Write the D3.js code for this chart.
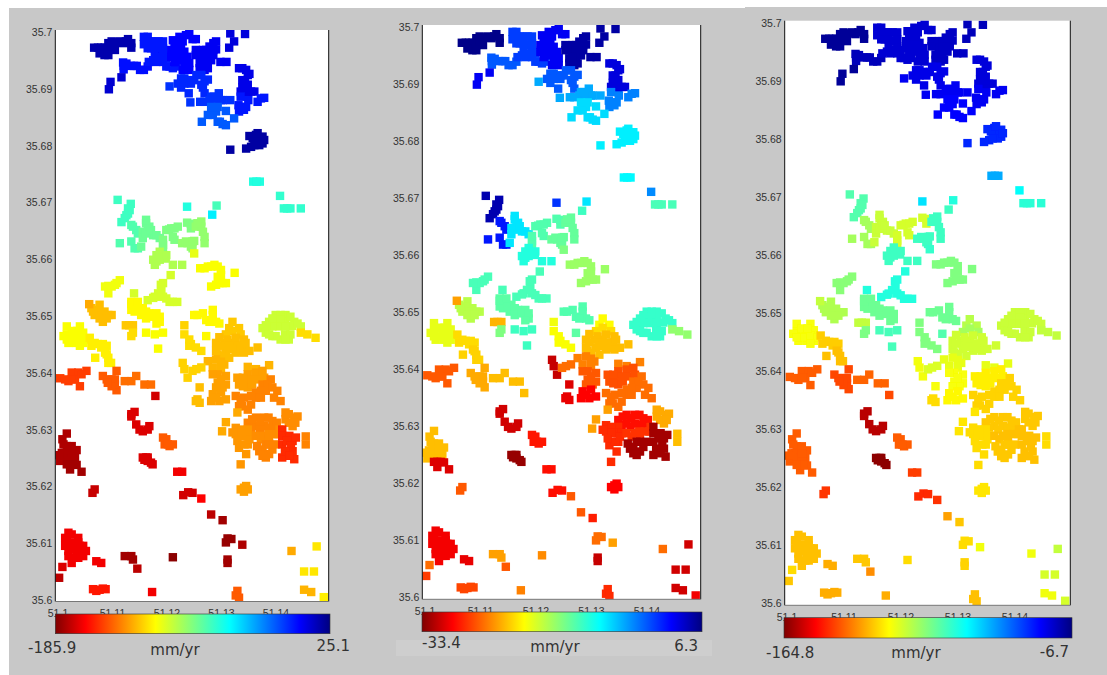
<!DOCTYPE html>
<html><head><meta charset="utf-8">
<style>html,body{margin:0;padding:0;background:#fff}svg{display:block}</style>
<script src="https://cdn.jsdelivr.net/npm/d3@7/dist/d3.min.js"></script></head>
<body><div id="chart"></div>
<script>
// rates = [panel 1, panel 2, panel 3] in mm/yr; sites = [lon, lat]
const nwBlob={rates:[16.7,6,-10],sites:[[51.1071,35.6969],[51.1084,35.6969],[51.1097,35.6977],[51.1109,35.6978],[51.1097,35.6965],[51.1109,35.6965],[51.109,35.6956],[51.1129,35.698],[51.1139,35.6969],[51.1124,35.6977],[51.1078,35.6969],[51.109,35.6969],[51.1103,35.6971],[51.1103,35.698],[51.1115,35.6978],[51.1081,35.6959],[51.1118,35.698],[51.1097,35.6956],[51.1133,35.6984],[51.1139,35.6977]]};
const chainA={rates:[-0.2,-1.6,-14.6],sites:[[51.1124,35.6943],[51.1138,35.6937],[51.1149,35.6937],[51.1162,35.693],[51.1125,35.6931],[51.113,35.6941],[51.1144,35.6937],[51.1155,35.693],[51.1169,35.6936],[51.1125,35.6937]]};
const chainB={rates:[10.3,2.3,-10],sites:[[51.1121,35.6917],[51.1101,35.6909],[51.1098,35.6896]]};
const blockA={rates:[-2.3,-0.5,-18],sites:[[51.1162,35.6988],[51.1162,35.6975],[51.1175,35.698],[51.1189,35.698],[51.1175,35.6968],[51.1189,35.6965],[51.1182,35.6956],[51.1197,35.6956],[51.1171,35.6944],[51.1185,35.6944],[51.1197,35.6944],[51.1209,35.6936],[51.1221,35.6936],[51.1169,35.6988],[51.1169,35.698],[51.1169,35.6968],[51.1182,35.698],[51.1197,35.698],[51.1182,35.6968],[51.1197,35.6968],[51.1179,35.6947],[51.1189,35.695],[51.1203,35.695],[51.1203,35.6936],[51.1215,35.6933]]};
const blockB={rates:[1.9,2.3,-18],sites:[[51.1212,35.6953],[51.1224,35.6953],[51.1236,35.6942],[51.1245,35.6942],[51.1245,35.693],[51.1212,35.6965],[51.1224,35.6965],[51.1236,35.6962],[51.1221,35.698],[51.1233,35.698],[51.1239,35.6991],[51.1251,35.6984],[51.1227,35.6988],[51.1218,35.6974],[51.123,35.6974],[51.1218,35.6959],[51.123,35.6959],[51.1218,35.6944],[51.123,35.6947],[51.1242,35.6953],[51.1233,35.693],[51.1245,35.6994],[51.1215,35.6982],[51.1257,35.6984]]};
const blockC={rates:[4,5.1,-16],sites:[[51.1257,35.6965],[51.127,35.6965],[51.1282,35.6971],[51.1294,35.698],[51.1294,35.6966],[51.127,35.6953],[51.1282,35.6953],[51.1264,35.6942],[51.1276,35.6942],[51.1273,35.693],[51.1285,35.6947],[51.1302,35.6944],[51.1313,35.6944],[51.1276,35.6965],[51.1289,35.6965],[51.1289,35.6977],[51.1276,35.6956],[51.1289,35.6956],[51.1264,35.6933],[51.1279,35.6933],[51.127,35.6944],[51.1257,35.6956]]};
const neTop={rates:[8.2,5.1,-14.6],sites:[[51.132,35.6994],[51.1327,35.698],[51.1318,35.6969],[51.1347,35.6993]]};
const rightTop={rates:[6.1,3.1,-19],sites:[[51.1336,35.6933],[51.1349,35.693],[51.1355,35.6923],[51.1347,35.6912],[51.1347,35.6899],[51.1345,35.6889],[51.1358,35.6892],[51.1342,35.6933],[51.1352,35.6921],[51.1342,35.6912],[51.1352,35.6904],[51.1342,35.6899],[51.1364,35.6892],[51.1339,35.6892],[51.1352,35.6883]]};
const rightLow={rates:[-2.3,-3.2,-22.5],sites:[[51.1376,35.688],[51.137,35.6874],[51.1339,35.6883],[51.1336,35.6857],[51.1345,35.686],[51.1353,35.6877],[51.1335,35.6868],[51.1382,35.6881],[51.1342,35.6865],[51.1349,35.6865]]};
const lowerA={rates:[-6.5,-1.6,-20.9],sites:[[51.123,35.6915],[51.1242,35.6912],[51.1254,35.6912],[51.1267,35.6921],[51.1279,35.6913],[51.123,35.6899],[51.1244,35.6889],[51.127,35.6899],[51.1273,35.6889],[51.1236,35.6915],[51.1248,35.6912],[51.1258,35.6921],[51.1224,35.6906],[51.1236,35.6906],[51.1248,35.6906],[51.1273,35.691],[51.1267,35.6904]]};
const lowerB={rates:[-8.7,-4.8,-22.5],sites:[[51.1209,35.6901],[51.1247,35.6873],[51.1265,35.6874],[51.1282,35.6877],[51.1294,35.688],[51.1303,35.6877],[51.1299,35.6889],[51.1285,35.6883],[51.132,35.6877],[51.1273,35.6874],[51.129,35.6883],[51.1294,35.6871],[51.1306,35.6877]]};
const lowerC={rates:[-17,-6.8,-25],sites:[[51.1288,35.686],[51.1279,35.6851],[51.1294,35.6857],[51.1312,35.6858],[51.1268,35.6839],[51.1297,35.6839],[51.1306,35.6835],[51.1312,35.6833],[51.1327,35.6845],[51.1288,35.6851],[51.1301,35.6839],[51.1285,35.6865],[51.1297,35.6865]]};
const neBlob={rates:[18.8,-7.6,-30],sites:[[51.1355,35.6814],[51.1367,35.6816],[51.1379,35.6813],[51.1379,35.6801],[51.1367,35.6804],[51.1358,35.6795],[51.1349,35.6792],[51.132,35.679],[51.1373,35.681],[51.1361,35.681],[51.137,35.6819],[51.1373,35.6798],[51.1382,35.6807],[51.1364,35.6798]]};
const cyanRow={rates:[-59,-8,-51],sites:[[51.1362,35.6734],[51.1374,35.6734],[51.1368,35.6734]]};
const cyanOne={rates:[-63,-3.6,-65],sites:[[51.1411,35.6709]]};
const cyanTrio={rates:[-63,-11.2,-71.5],sites:[[51.1418,35.6687],[51.143,35.6687],[51.1449,35.6687],[51.1424,35.6687]]};
const greenA={rates:[-65.6,4.7,-78],sites:[[51.1114,35.6702],[51.1138,35.6695],[51.1133,35.6687],[51.113,35.6675],[51.1121,35.6663],[51.1133,35.6678],[51.1127,35.667],[51.1136,35.6684]]};
const greenB={rates:[-70,1.1,-92],sites:[[51.1139,35.6658],[51.1148,35.6649],[51.1118,35.6626],[51.1139,35.6629],[51.1145,35.6617],[51.1142,35.6655],[51.1151,35.6643],[51.1151,35.6617]]};
const greenC={rates:[-76,-7.2,-98],sites:[[51.116,35.6646],[51.1166,35.6661],[51.1169,35.6649],[51.116,35.6635],[51.1179,35.664],[51.1191,35.6635],[51.1157,35.662],[51.1166,35.6643],[51.1172,35.6655],[51.1166,35.6667],[51.1175,35.6649],[51.1185,35.664]]};
const greenD={rates:[-80,-11.6,-100],sites:[[51.1203,35.6649],[51.1212,35.6652],[51.1224,35.6655],[51.1241,35.6662],[51.1248,35.6652],[51.1218,35.6632],[51.1197,35.6623],[51.1208,35.665],[51.1218,35.6652],[51.1248,35.666],[51.1215,35.6637],[51.1197,35.6632],[51.1197,35.6617]]};
const greenE={rates:[-84.6,-12.4,-74.7],sites:[[51.1257,35.6655],[51.1267,35.6664],[51.1267,35.6655],[51.1232,35.6626],[51.1242,35.6626],[51.1254,35.663],[51.1273,35.6637],[51.1273,35.6626],[51.1251,35.6617],[51.126,35.6661],[51.1239,35.6629],[51.1248,35.662],[51.1251,35.6629],[51.127,35.6646]]};
const isoA={rates:[-59,-0.1,-60],sites:[[51.1241,35.669]]};
const isoB={rates:[-67.7,-7.2,-70],sites:[[51.1295,35.6692]]};
const isoC={rates:[-48.7,-10.8,-74.7],sites:[[51.1287,35.6676]]};
const greenF={rates:[-91,-9.6,-74.7],sites:[[51.1185,35.6605],[51.1197,35.6602],[51.1185,35.6594],[51.1202,35.6599],[51.1215,35.6588],[51.1232,35.6588],[51.1191,35.6611],[51.1179,35.6597],[51.1191,35.6597],[51.1203,35.6605],[51.1182,35.6588]]};
const isoD={rates:[-103.6,-13.5,-73],sites:[[51.1254,35.6608]]};
const yellowCurve={rates:[-107.8,-14.7,-85.8],sites:[[51.1265,35.6582],[51.1279,35.6585],[51.1291,35.6588],[51.1303,35.6579],[51.1297,35.6567],[51.1312,35.6556],[51.13,35.6556],[51.1285,35.655],[51.1328,35.6574],[51.1285,35.6585],[51.1297,35.6585],[51.1303,35.657],[51.1306,35.6556],[51.1294,35.6553],[51.1273,35.6582]]};
const westPatch={rates:[-105.7,-11.2,-87.3],sites:[[51.1118,35.6561],[51.1109,35.6553],[51.1097,35.6551],[51.1097,35.6538],[51.1103,35.655],[51.1112,35.6556],[51.1091,35.655]]};
const midChain={rates:[-99.4,-11.2,-70],sites:[[51.1211,35.657],[51.1197,35.6556],[51.1194,35.6544],[51.1182,35.6532],[51.1169,35.6526],[51.1197,35.6532],[51.1209,35.6523],[51.1223,35.6523],[51.1144,35.6538],[51.1188,35.6538],[51.1203,35.6529],[51.1179,35.653],[51.1215,35.6523],[51.1193,35.6553]]};
const orangeWest={rates:[-122.6,-15.9,-93.7],sites:[[51.1066,35.6512],[51.1081,35.6518],[51.1072,35.65],[51.109,35.6506],[51.1103,35.65],[51.1087,35.6488],[51.1078,35.6509],[51.1069,35.6506],[51.1085,35.65],[51.1097,35.65],[51.1081,35.6494],[51.1094,35.6494]]};
const orangeTip={rates:[-126.8,-22.7,-97],sites:[[51.1062,35.6519]]};
const yellowBlock={rates:[-110,-12,-82.6],sites:[[51.1139,35.6523],[51.1148,35.6515],[51.116,35.6512],[51.1139,35.6509],[51.1172,35.6503],[51.1157,35.65],[51.1185,35.6503],[51.1191,35.6488],[51.1145,35.6506],[51.1154,35.6509],[51.1166,35.6506],[51.1166,35.6494],[51.1179,35.6497],[51.1191,35.6497],[51.1185,35.6485],[51.1139,35.6519],[51.1151,35.6523]]};
const orangePair={rates:[-120.5,-21.9,-96.8],sites:[[51.1129,35.6482],[51.1142,35.6482],[51.1135,35.6482]]};
const midBlock={rates:[-110,-11.6,-82.6],sites:[[51.1254,35.65],[51.127,35.6503],[51.1288,35.6509],[51.1276,35.6491],[51.1294,35.6488],[51.1288,35.65],[51.1282,35.6488],[51.13,35.6485],[51.126,35.65]]};
const midTip={rates:[-118.4,-18.3,-85.8],sites:[[51.1236,35.6482]]};
const centreTip={rates:[-120.5,-19,-95],sites:[[51.1324,35.6488],[51.1318,35.6477],[51.1336,35.6477]]};
const eastGreen={rates:[-97.3,-10.4,-98],sites:[[51.1403,35.65],[51.1421,35.65],[51.1391,35.6488],[51.1403,35.6488],[51.1421,35.6488],[51.1437,35.6488],[51.1449,35.648],[51.1379,35.6477],[51.1397,35.6463],[51.1412,35.6457],[51.1427,35.6457],[51.1385,35.6469],[51.1412,35.65],[51.1397,35.6494],[51.1412,35.6491],[51.143,35.6497],[51.1433,35.6481],[51.1409,35.648],[51.1421,35.648],[51.1397,35.648],[51.1385,35.6482],[51.1443,35.6485],[51.1403,35.6463],[51.142,35.6466],[51.143,35.6466],[51.1391,35.6466],[51.1421,35.6457]]};
const eastTip={rates:[-116,-14.3,-96.8],sites:[[51.1461,35.6466],[51.1476,35.646],[51.1449,35.6469]]};
const westYellow={rates:[-107.8,-17.9,-106],sites:[[51.1021,35.648],[51.1045,35.648],[51.1021,35.6466],[51.1036,35.6463],[51.1051,35.6469],[51.1024,35.6451],[51.1038,35.6451],[51.1051,35.6451],[51.1015,35.6463],[51.103,35.6457],[51.1045,35.646],[51.1057,35.6457],[51.103,35.6472],[51.104,35.6472],[51.1021,35.6457],[51.1045,35.6446]]};
const westOrange={rates:[-112,-20.3,-115],sites:[[51.1063,35.646],[51.1078,35.6449],[51.1066,35.6446],[51.1094,35.6446],[51.1072,35.6451],[51.1084,35.6443],[51.1087,35.6449]]};
const westTail={rates:[-112,-20.7,-117],sites:[[51.1094,35.6431],[51.1073,35.6425],[51.1097,35.6416],[51.1097,35.6425],[51.1091,35.6434],[51.1102,35.6416]]};
const northMidA={rates:[-116,-13.5,-85],sites:[[51.1142,35.6469],[51.1139,35.6463]]};
const northMidB={rates:[-107.8,-10.8,-76],sites:[[51.1166,35.6469],[51.1182,35.6466],[51.1197,35.6469],[51.1188,35.6441]]};
const northMidC={rates:[-116,-18.7,-85.8],sites:[[51.1236,35.6466],[51.1248,35.6449],[51.1245,35.6446],[51.1267,35.6437],[51.1245,35.6457],[51.1257,35.6443]]};
const northMidD={rates:[-110,-12,-78],sites:[[51.1276,35.6463]]};
const coreTop={rates:[-120.5,-20.3,-92],sites:[[51.1312,35.6466],[51.1324,35.6472],[51.1339,35.6466]]};
const coreA={rates:[-122.6,-21.5,-99],sites:[[51.1294,35.6451],[51.1309,35.6451],[51.1324,35.6451],[51.1342,35.6446],[51.1355,35.6437],[51.137,35.6443],[51.1294,35.6437],[51.1312,35.6437],[51.133,35.6434],[51.13,35.6461],[51.1315,35.6457],[51.133,35.646],[51.1345,35.6457],[51.13,35.6446],[51.1318,35.6446],[51.1334,35.6446],[51.1348,35.6451],[51.1303,35.6428],[51.1318,35.6425],[51.1336,35.6437],[51.1297,35.6431],[51.1324,35.644],[51.1345,35.6434]]};
const coreB={rates:[-124.7,-23.9,-103],sites:[[51.1294,35.6422],[51.1279,35.6419],[51.1309,35.6413],[51.1391,35.6412],[51.1367,35.6405],[51.1352,35.6409],[51.1303,35.6405],[51.1288,35.6408],[51.1303,35.6418]]};
const coreWestA={rates:[-118.4,-31,-105],sites:[[51.1233,35.6416],[51.1236,35.6405],[51.1242,35.639]]};
const coreWestB={rates:[-118.4,-24.7,-101],sites:[[51.1251,35.6402],[51.1267,35.6408],[51.1258,35.6405]]};
const denseA={rates:[-129,-25.5,-106],sites:[[51.1297,35.6396],[51.1312,35.6393],[51.1297,35.6381],[51.1312,35.6378],[51.1303,35.6387],[51.1306,35.6373],[51.1294,35.6373],[51.1288,35.6396]]};
const denseB={rates:[-129,-29,-108],sites:[[51.1288,35.6361],[51.1303,35.6364],[51.1285,35.6349],[51.13,35.6349],[51.1312,35.6352],[51.1294,35.6355]]};
const isoE={rates:[-122.6,-30.2,-106],sites:[[51.1264,35.6373]]};
const denseC={rates:[-122.6,-29.8,-112.6],sites:[[51.1257,35.6349],[51.1264,35.6346],[51.126,35.6352]]};
const denseD={rates:[-129,-25.9,-109.5],sites:[[51.1333,35.639],[51.1349,35.6384],[51.1367,35.6399],[51.1379,35.6402],[51.1352,35.6396],[51.1336,35.6378],[51.1352,35.6373],[51.1357,35.6387],[51.1343,35.639],[51.136,35.6378],[51.137,35.6387],[51.1382,35.639],[51.1343,35.6375]]};
const denseE={rates:[-135,-24.7,-114],sites:[[51.1394,35.6387],[51.1406,35.6367],[51.1379,35.6378],[51.1367,35.6364],[51.1385,35.6367],[51.14,35.6355],[51.133,35.6358],[51.1345,35.6355],[51.1367,35.6355],[51.1358,35.6343],[51.1412,35.6349],[51.1342,35.634],[51.1388,35.6378],[51.1397,35.6373],[51.1376,35.6367],[51.1376,35.6355],[51.1358,35.6358],[51.1336,35.634],[51.1352,35.6334],[51.1339,35.6351]]};
const denseF={rates:[-126.8,-22.7,-111],sites:[[51.1333,35.6329],[51.1312,35.6312],[51.1305,35.6296]]};
const southEastA={rates:[-133,-22.3,-115.8],sites:[[51.1421,35.6329],[51.1437,35.632],[51.1421,35.6317],[51.1443,35.6322],[51.1434,35.6305],[51.1427,35.6326],[51.1427,35.6311],[51.1439,35.6311]]};
const southMassA={rates:[-135,-28.6,-115.8],sites:[[51.1367,35.632],[51.1382,35.632],[51.1397,35.6314],[51.1352,35.6311],[51.1367,35.6305],[51.1382,35.6305],[51.14,35.6302],[51.136,35.6317],[51.1375,35.6314],[51.139,35.632],[51.1405,35.6311],[51.1358,35.6302],[51.1374,35.6299],[51.139,35.6302]]};
const southMassB={rates:[-131,-27.4,-112.6],sites:[[51.133,35.6302],[51.1352,35.6299],[51.133,35.6291],[51.1349,35.6288],[51.1336,35.6267],[51.1352,35.6273],[51.1349,35.6256],[51.1339,35.6238],[51.134,35.6299],[51.134,35.6288],[51.1324,35.6294],[51.1346,35.6273],[51.1333,35.6279],[51.1358,35.6288],[51.1355,35.6282]]};
const southMassC={rates:[-133,-27,-117],sites:[[51.1367,35.6288],[51.1382,35.6288],[51.14,35.6291],[51.1376,35.6282],[51.139,35.6291],[51.1408,35.6291],[51.141,35.6299],[51.1391,35.6282]]};
const southDark={rates:[-135,-32.2,-115.8],sites:[[51.1373,35.6261],[51.1385,35.6273],[51.1397,35.6264],[51.1385,35.625],[51.1379,35.6264],[51.1391,35.6273],[51.1391,35.6256],[51.1379,35.6253],[51.1369,35.627],[51.1403,35.6273]]};
const southRed={rates:[-154,-32.2,-117],sites:[[51.1415,35.6299],[51.1415,35.6288],[51.1434,35.6279],[51.1415,35.6273],[51.1415,35.625],[51.1434,35.6261],[51.1437,35.6247],[51.1428,35.6288],[51.1424,35.6279],[51.1431,35.627],[51.142,35.6261],[51.1428,35.6253],[51.144,35.6285]]};
const eastPair={rates:[-135,-21.5,-112.6],sites:[[51.1458,35.6287],[51.1458,35.6273]]};
const isoF={rates:[-129,-29,-111],sites:[[51.1345,35.6197],[51.1339,35.6194],[51.1352,35.6194],[51.1349,35.62],[51.1345,35.619]]};
const redA={rates:[-150,-25.5,-133],sites:[[51.1009,35.6389],[51.103,35.6399],[51.1042,35.6399],[51.1057,35.6402],[51.1024,35.6384],[51.1036,35.6387],[51.1045,35.6375],[51.1018,35.6387],[51.103,35.6387],[51.1048,35.6396]]};
const redB={rates:[-143.7,-22.3,-136.3],sites:[[51.1087,35.6393],[51.1103,35.6387],[51.1112,35.6402],[51.1112,35.6368],[51.1109,35.6378],[51.1094,35.6387],[51.1109,35.6387],[51.1103,35.6375],[51.1096,35.6381]]};
const redC={rates:[-139.5,-21.5,-131.6],sites:[[51.1127,35.6384],[51.1139,35.6384],[51.1148,35.6393],[51.1163,35.6378],[51.1175,35.6378]]};
const redTip={rates:[-171,-21.5,-136],sites:[[51.1183,35.6358]]};
const hookDark={rates:[-169,-30.6,-157],sites:[[51.1145,35.633],[51.1139,35.6322],[51.1148,35.6308],[51.116,35.6296],[51.1172,35.6305],[51.1154,35.6299],[51.1169,35.6299],[51.1139,35.6326]]};
const redBlob={rates:[-143.7,-28.2,-133],sites:[[51.1203,35.6282],[51.12,35.6273],[51.1209,35.627],[51.1215,35.6273],[51.1197,35.6285],[51.1206,35.6273]]};
const darkBlob={rates:[-169,-32.6,-163],sites:[[51.1166,35.625],[51.1163,35.6246],[51.1175,35.6241],[51.1169,35.625],[51.1169,35.6244],[51.1178,35.6238],[51.116,35.625]]};
const roadA={rates:[-164.8,-28.6,-138],sites:[[51.1223,35.6225],[51.1232,35.6225]]};
const roadB={rates:[-171,-28.6,-141],sites:[[51.1234,35.6184],[51.1243,35.6189],[51.1251,35.6188]]};
const roadC={rates:[-162.7,-25.5,-139.5],sites:[[51.1267,35.6178]]};
const roadD={rates:[-175,-25.5,-122],sites:[[51.1285,35.615]]};
const roadE={rates:[-179.6,-27.8,-116],sites:[[51.1306,35.614]]};
const roadF={rates:[-181.7,-24.7,-112.6],sites:[[51.1315,35.6108],[51.1312,35.6101],[51.1322,35.6107]]};
const isoG={rates:[-177.5,-22.7,-104.7],sites:[[51.1342,35.6097]]};
const isoH={rates:[-179.6,-31,-114],sites:[[51.1315,35.6071],[51.1315,35.6065]]};
const isoI={rates:[-183.8,-23.5,-112.6],sites:[[51.1215,35.6075]]};
const southTrio={rates:[-179.6,-22.7,-116],sites:[[51.1127,35.6077],[51.1139,35.6077],[51.1142,35.6071]]};
const isoJ={rates:[-175,-25.5,-125],sites:[[51.115,35.6055]]};
const swA={rates:[-169,-24.7,-112.6],sites:[[51.1013,35.6058]]};
const swB={rates:[-175,-26.7,-116],sites:[[51.1007,35.6039]]};
const isoK={rates:[-164.8,-23.9,-120],sites:[[51.1177,35.6014]]};
const southRow={rates:[-158.5,-26.3,-120],sites:[[51.1069,35.6019],[51.1081,35.6018],[51.1092,35.6019],[51.1075,35.6016],[51.1087,35.602]]};
const swBlob={rates:[-164.8,-29.4,-117],sites:[[51.1024,35.6118],[51.1021,35.6104],[51.1042,35.6109],[51.103,35.6101],[51.1045,35.6095],[51.1056,35.6086],[51.1024,35.6086],[51.1039,35.6083],[51.1051,35.6077],[51.103,35.6065],[51.1042,35.6074],[51.103,35.6115],[51.1018,35.6095],[51.103,35.6092],[51.1042,35.6101],[51.1036,35.609],[51.1051,35.6095],[51.1045,35.6083],[51.1024,35.6077],[51.1036,35.6074],[51.1018,35.6109]]};
const swPair={rates:[-164.8,-29.8,-120],sites:[[51.1075,35.6068],[51.1084,35.6065]]};
const southTip={rates:[-143.7,-27.4,-117],sites:[[51.1333,35.6016],[51.133,35.6008],[51.1336,35.6004]]};
const seA={rates:[-126.8,-24.7,-104.7],sites:[[51.1432,35.6086]]};
const seB={rates:[-114,-30.6,-97],sites:[[51.1478,35.6094]]};
const seC={rates:[-114,-30.6,-100],sites:[[51.1455,35.605],[51.1473,35.605]]};
const seD={rates:[-124.7,-30.6,-104.7],sites:[[51.1455,35.6018],[51.1468,35.6014]]};
const seE={rates:[-112,-29.4,-100],sites:[[51.1491,35.6005]]};
const darkWest={rates:[-177.5,-21.5,-133],sites:[[51.1021,35.6292],[51.1013,35.6282],[51.1021,35.627],[51.1012,35.6258],[51.1024,35.6261],[51.1039,35.6263],[51.1009,35.6244],[51.1024,35.625],[51.1036,35.625],[51.1015,35.6273],[51.103,35.627],[51.1018,35.6258],[51.103,35.6258],[51.1014,35.625],[51.103,35.6244],[51.1007,35.6254]]};
const darkWestLow={rates:[-179.6,-30.2,-133],sites:[[51.1027,35.6238],[51.1039,35.6237],[51.1027,35.6229],[51.1048,35.6225],[51.1033,35.6238],[51.1021,35.6238]]};
const isoL={rates:[-173,-25.5,-139],sites:[[51.1072,35.6194],[51.1068,35.6188]]};

const allGroups=[nwBlob,chainA,chainB,blockA,blockB,blockC,neTop,rightTop,rightLow,lowerA,lowerB,lowerC,neBlob,cyanRow,cyanOne,cyanTrio,greenA,greenB,greenC,greenD,greenE,isoA,isoB,isoC,greenF,isoD,yellowCurve,westPatch,midChain,orangeWest,orangeTip,yellowBlock,orangePair,midBlock,midTip,centreTip,eastGreen,eastTip,westYellow,westOrange,westTail,northMidA,northMidB,northMidC,northMidD,coreTop,coreA,coreB,coreWestA,coreWestB,denseA,denseB,isoE,denseC,denseD,denseE,denseF,southEastA,southMassA,southMassB,southMassC,southDark,southRed,eastPair,isoF,redA,redB,redC,redTip,hookDark,redBlob,darkBlob,roadA,roadB,roadC,roadD,roadE,roadF,isoG,isoH,isoI,southTrio,isoJ,swA,swB,isoK,southRow,swBlob,swPair,southTip,seA,seB,seC,seD,seE,darkWest,darkWestLow,isoL];

const latTicks=[35.7,35.69,35.68,35.67,35.66,35.65,35.64,35.63,35.62,35.61,35.6];
const lonTicks=[51.1,51.11,51.12,51.13,51.14];
const rateMin=[-185.9,-33.4,-164.8];
const rateMax=[25.1,6.3,-6.7];
const rateLabelMin=["-185.9","-33.4","-164.8"];
const rateLabelMax=["25.1","6.3","-6.7"];
const jetStops=[0,.11,.365,.5,.635,.89,1];
const jetColors=["#800000","#ff0000","#ffff00","#80ff80","#00ffff","#0000ff","#000080"];

const panels=[
 {l:55.3,r:328.7,t:30,b:600,edge:601.5,labT:32.3,labB:600,xl:[57.5,275.5],xBase:617,bar:[55.3,330,614,633.7],lo:[28,653],hi:[350,651],unit:[175,655]},
 {l:422.3,r:700.7,t:25,b:598.3,edge:599.3,labT:27.3,labB:597,xl:[424.5,646.5],xBase:614.5,bar:[422,702,612,631.7],lo:[422,648],hi:[698,651],unit:[555,652]},
 {l:784.7,r:1070.3,t:20.7,b:603.7,edge:605.3,labT:23,labB:603,xl:[786.5,1014.5],xBase:621,bar:[784,1072,617.7,638],lo:[766,658],hi:[1069,657],unit:[916,658]}
];

const W=1107,H=675;
const svg=d3.select("#chart").append("svg").attr("width",W).attr("height",H);
svg.append("rect").attr("x",9).attr("y",8).attr("width",W-9).attr("height",H-8).attr("fill","#c8c8c8");
svg.append("rect").attr("x",745).attr("y",7).attr("width",W-745).attr("height",2).attr("fill","#c8c8c8");
svg.append("rect").attr("x",396).attr("y",640).attr("width",316).attr("height",16).attr("fill","#cecece");
const defs=svg.append("defs");
defs.append("filter").attr("id","soft").append("feGaussianBlur").attr("stdDeviation",0.45);

panels.forEach((p,i)=>{
  const g=svg.append("g");
  g.append("rect").attr("x",p.l).attr("y",p.t).attr("width",p.r-p.l).attr("height",p.edge-p.t).attr("fill","#fff");
  const x=d3.scaleLinear().domain([51.1,51.15]).range([p.l,p.r]);
  const y=d3.scaleLinear().domain([35.6,35.7]).range([p.b,p.t]);
  const c=d3.scaleLinear().domain(jetStops.map(s=>rateMin[i]+s*(rateMax[i]-rateMin[i]))).range(jetColors).clamp(true);
  const clipId="clip"+i;
  defs.append("clipPath").attr("id",clipId).append("rect").attr("x",p.l).attr("y",p.t).attr("width",p.r-p.l).attr("height",p.edge-p.t);
  const marks=g.append("g").attr("clip-path",`url(#${clipId})`).append("g").attr("filter","url(#soft)");
  const sz=8.4;
  allGroups.forEach(gr=>{
    marks.selectAll(null).data(gr.sites).enter().append("rect")
      .attr("x",d=>x(d[0])-sz/2).attr("y",d=>y(d[1])-sz/2)
      .attr("width",sz).attr("height",sz).attr("fill",c(gr.rates[i]));
  });
  g.append("line").attr("x1",p.l).attr("x2",p.l).attr("y1",p.t).attr("y2",p.edge).attr("stroke","#111");
  g.append("line").attr("x1",p.r).attr("x2",p.r).attr("y1",p.t).attr("y2",p.edge).attr("stroke","#111");
  g.append("line").attr("x1",p.l).attr("x2",p.r).attr("y1",p.edge).attr("y2",p.edge).attr("stroke","#777");
  const yLab=d3.scaleLinear().domain([35.6,35.7]).range([p.labB,p.labT]);
  const ya=g.append("g").attr("transform",`translate(${p.l},0)`).call(d3.axisLeft(yLab).tickValues(latTicks).tickSize(0).tickPadding(3).tickFormat(d3.format("")));
  ya.select(".domain").remove();
  ya.selectAll("text").attr("font-family","Liberation Sans").attr("font-size",10.5).attr("fill","#333");
  const xLab=d3.scaleLinear().domain([51.1,51.14]).range(p.xl);
  const xa=g.append("g").attr("transform",`translate(0,${p.xBase})`).call(d3.axisBottom(xLab).tickValues(lonTicks).tickSize(0).tickPadding(0).tickFormat(d3.format("")));
  xa.select(".domain").remove();
  xa.selectAll("text").attr("y",0).attr("dy",0).attr("font-family","Liberation Sans").attr("font-size",10.5).attr("fill","#333");
  const gid="jet"+i;
  const lg=defs.append("linearGradient").attr("id",gid);
  lg.selectAll("stop").data(jetStops).enter().append("stop").attr("offset",d=>d).attr("stop-color",(d,k)=>jetColors[k]);
  const [bx0,bx1,by0,by1]=p.bar;
  g.append("rect").attr("x",bx0).attr("y",by0).attr("width",bx1-bx0).attr("height",by1-by0).attr("fill",`url(#${gid})`).attr("stroke","#333").attr("stroke-width",.6);
  const t=(xy,s,anchor)=>g.append("text").attr("x",xy[0]).attr("y",xy[1]).attr("text-anchor",anchor).attr("font-family","DejaVu Sans").attr("font-size",15).attr("fill","#333").text(s);
  t(p.lo,rateLabelMin[i],"start");
  t(p.hi,rateLabelMax[i],"end");
  t(p.unit,"mm/yr","middle");
});
</script></body></html>
